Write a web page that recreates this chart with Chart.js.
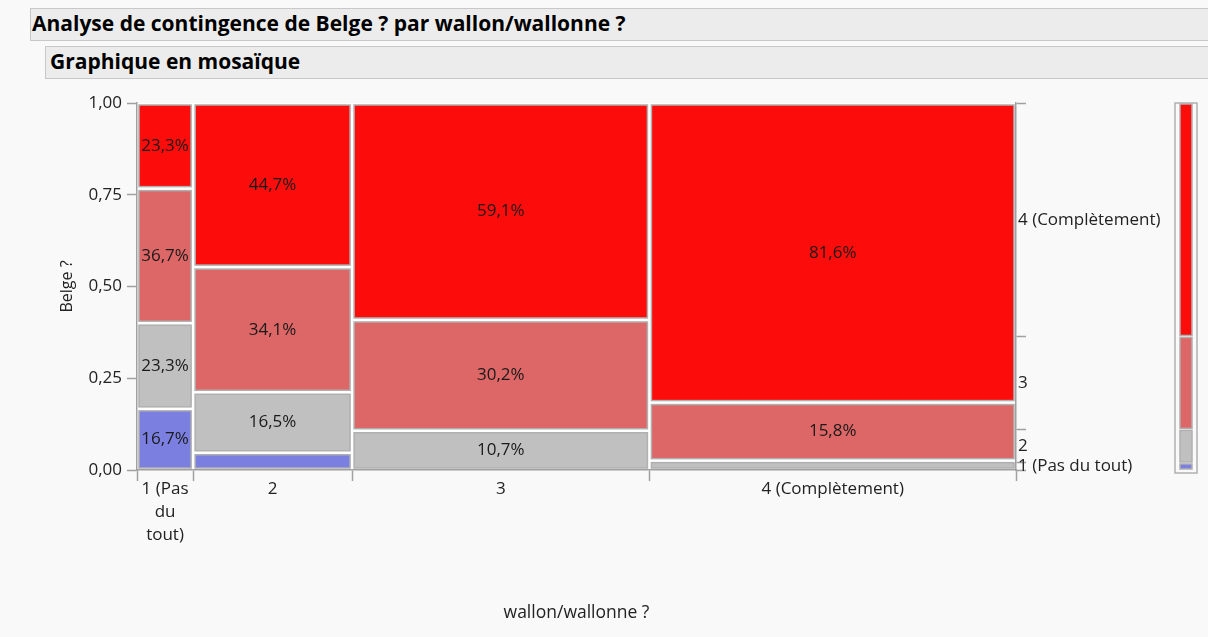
<!DOCTYPE html>
<html lang="fr">
<head>
<meta charset="UTF-8">
<title>Graphique en mosaïque</title>
<style>
    body { margin: 0; background: #f9f9f9; font-family: "Open Sans", sans-serif; }
    .bar { position: absolute; box-sizing: border-box; background: #ececec; border: 1px solid #c8c8c8;
           font-weight: 700; color: #000; padding-left: 1px; font-size: 21px; height: 33px; line-height: 29px; }
    #t1 { left: 30px; top: 8px; width: 1190px; }
    #t2 { left: 45px; top: 46px; width: 1175px; padding-left: 4px; }
    #wrap { position: absolute; left: 0; top: 85px; width: 1208px; height: 552px; }
</style>
</head>
<body>

<div class="bar" id="t1">Analyse de contingence de Belge ? par wallon/wallonne ?</div>
<div class="bar" id="t2">Graphique en mosaïque</div>

<div id="wrap"><canvas id="myCanvas"></canvas></div>

<script src="https://cdn.jsdelivr.net/npm/chart.js@4.4.1/dist/chart.umd.min.js"></script>
<script>

// wallon/wallonne ? (columns of the mosaic)
var columnLabels = [['1 (Pas', 'du', 'tout)'], '2', '3', '4 (Complètement)'];
// Belge ? levels, from bottom to top
var levelLabels = ['1 (Pas du tout)', '2', '3', '4 (Complètement)'];

// counts per column, read from the printed percentages and the column widths
var countsLevel1 = [5, 4, 0, 0];
var countsLevel2 = [7, 14, 17, 5];
var countsLevel3 = [11, 29, 48, 31];
var countsLevel4 = [7, 38, 94, 160];

var yTickValues = [0, 0.25, 0.5, 0.75, 1];

var levelColors = ['#7b80e0', '#c0c0c0', '#dd6666', '#fd0c0c'];

var levels = [countsLevel1, countsLevel2, countsLevel3, countsLevel4];
var columnTotals = columnLabels.map((c, i) => levels.reduce((s, l) => s + l[i], 0));
var grandTotal = columnTotals.reduce((a, b) => a + b, 0);

var columnEdges = [0];
columnTotals.forEach(t => columnEdges.push(columnEdges[columnEdges.length - 1] + t));

var marginalEdges = [0];
levels.forEach(l => marginalEdges.push(marginalEdges[marginalEdges.length - 1] + l.reduce((a, b) => a + b, 0) / grandTotal));

function pct(v) {
    return (v * 100).toFixed(1).replace('.', ',') + '%';
}

function cellRect(ctx, x0, y0, x1, y1, color) {
    var inset = 2;
    var w = x1 - x0 - 2 * inset, h = y0 - y1 - 2 * inset;
    if (w <= 0 || h <= 0) return;
    ctx.fillStyle = color;
    ctx.fillRect(x0 + inset, y1 + inset, w, h);
    ctx.strokeStyle = '#b0b0b0';
    ctx.lineWidth = 1.5;
    ctx.strokeRect(x0 + inset, y1 + inset, w, h);
}

var mosaicPlugin = {
    id: 'mosaic',
    beforeDraw(chart) {
        var a = chart.chartArea;
        chart.ctx.save();
        chart.ctx.fillStyle = '#ffffff';
        chart.ctx.fillRect(a.left, a.top, a.width, a.height);
        chart.ctx.restore();
    },
    beforeDatasetsDraw(chart) {
        var ctx = chart.ctx, x = chart.scales.x, y = chart.scales.y, yR = chart.scales.yR;
        ctx.save();
        var labels = [];
        columnTotals.forEach(function(total, c) {
            var px0 = x.getPixelForValue(columnEdges[c]);
            var px1 = x.getPixelForValue(columnEdges[c + 1]);
            var cum = 0;
            levels.forEach(function(l, k) {
                var f = l[c] / total;
                if (f > 0) {
                    var py0 = y.getPixelForValue(cum), py1 = y.getPixelForValue(cum + f);
                    cellRect(ctx, px0, py0, px1, py1, levelColors[k]);
                    if (f > 0.08) labels.push([pct(f), (px0 + px1) / 2, (py0 + py1) / 2]);
                }
                cum += f;
            });
        });

        ctx.fillStyle = '#1a1a1a';
        ctx.font = '17px "Open Sans"';
        ctx.textAlign = 'center';
        ctx.textBaseline = 'middle';
        labels.forEach(t => ctx.fillText(t[0], t[1], t[2]));

        // marginal bar at the far right
        var bx0 = yR.right - 33, bx1 = yR.right - 11;
        ctx.strokeStyle = '#b0b0b0';
        ctx.lineWidth = 1.5;
        ctx.strokeRect(bx0, y.getPixelForValue(1), bx1 - bx0, y.getPixelForValue(0) - y.getPixelForValue(1) + 3);
        levels.forEach(function(l, k) {
            cellRect(ctx, bx0 + 3, y.getPixelForValue(marginalEdges[k]) + 1, bx1 - 3, y.getPixelForValue(marginalEdges[k + 1]) - 1, levelColors[k]);
        });
        ctx.restore();
    }
};

function splitTicks(edges, names) {
    var ticks = edges.map(v => ({value: v, edge: true, lab: ''}));
    names.forEach((n, i) => ticks.push({value: (edges[i] + edges[i + 1]) / 2, edge: false, lab: n}));
    return ticks.sort((a, b) => a.value - b.value);
}

var tickFont = {family: '"Open Sans"', size: 17, lineHeight: 1.38};
var axisGray = '#a0a0a0';

var canvas = document.getElementById('myCanvas');
var context = canvas.getContext('2d');

var mosaicChart = new Chart(context, {
    type: 'scatter',
    data: {datasets: []},
    plugins: [mosaicPlugin],
    options: {
        responsive: true,
        maintainAspectRatio: false,
        animation: false,
        layout: {padding: {top: 18, bottom: 11, left: 0, right: 0}},
        plugins: {legend: {display: false}, tooltip: {enabled: false}},
        scales: {
            x: {
                type: 'linear',
                position: 'bottom',
                min: 0,
                max: grandTotal,
                afterBuildTicks: s => { s.ticks = splitTicks(columnEdges, columnLabels); },
                afterFit: s => { s.height = 156; },
                border: {color: axisGray, width: 1.5},
                grid: {drawOnChartArea: false, tickLength: 11, tickWidth: 1.5,
                       tickColor: c => (c.tick && c.tick.edge) ? axisGray : 'rgba(0,0,0,0)'},
                ticks: {autoSkip: false, maxRotation: 0, padding: -4, color: '#222', font: tickFont,
                        callback: (v, i, t) => t[i].lab},
                title: {display: true, text: 'wallon/wallonne ?', color: '#222',
                        font: {family: '"Open Sans"', size: 17.5}, padding: {top: 0, bottom: 2}}
            },
            y: {
                type: 'linear',
                position: 'left',
                min: 0,
                max: 1,
                afterBuildTicks: s => { s.ticks = yTickValues.map(v => ({value: v})); },
                afterFit: s => { s.width = 137; },
                border: {color: axisGray, width: 1.5},
                grid: {drawOnChartArea: false, tickLength: 10, tickWidth: 1.5, tickColor: axisGray},
                ticks: {padding: 5, color: '#222', font: {family: '"Open Sans"', size: 17},
                        callback: v => v.toFixed(2).replace('.', ',')},
                title: {display: true, text: 'Belge ?', color: '#222',
                        font: {family: '"Open Sans"', size: 16}, padding: {top: 58, bottom: 0}}
            },
            yR: {
                type: 'linear',
                position: 'right',
                min: 0,
                max: 1,
                afterBuildTicks: s => { s.ticks = splitTicks(marginalEdges, levelLabels); },
                afterFit: s => { s.width = 192; },
                border: {color: axisGray, width: 1.5},
                grid: {drawOnChartArea: false, tickLength: 10, tickWidth: 1.5,
                       tickColor: c => (c.tick && c.tick.edge) ? axisGray : 'rgba(0,0,0,0)'},
                ticks: {autoSkip: false, padding: -8, color: '#222', font: {family: '"Open Sans"', size: 17},
                        callback: (v, i, t) => t[i].lab}
            }
        }
    }
});
</script>
</body>
</html>
